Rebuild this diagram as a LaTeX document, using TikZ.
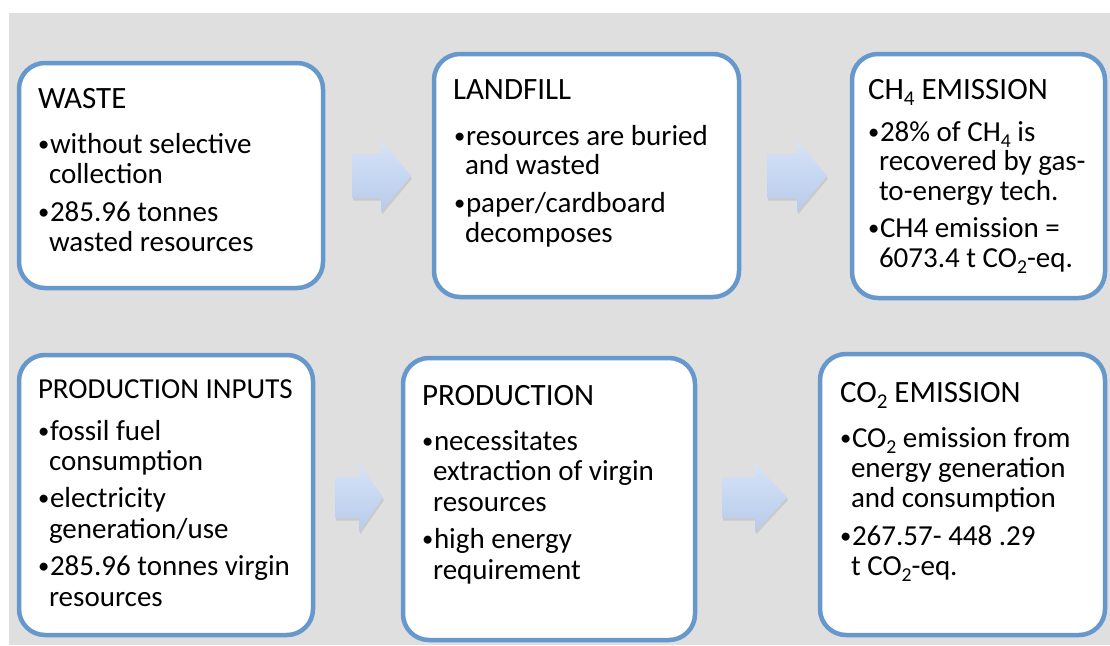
\documentclass[tikz,border=0pt]{standalone}
\usepackage{fontspec}
\usepackage{graphicx}
\setmainfont{Carlito}
\usetikzlibrary{shadows}

\definecolor{panelGray}{RGB}{223,223,223}
\definecolor{cardLine}{RGB}{102,152,203}
\definecolor{arrowTop}{RGB}{214,227,248}
\definecolor{arrowBot}{RGB}{183,203,234}

% chemical index set low and small, without adding line depth
\newcommand\lowidx[1]{\smash{\raisebox{-0.22em}{\scalebox{0.68}{#1}}}}
% list mark
\newcommand\listdot{\raisebox{0.05em}{\scalebox{0.78}{•}}}

\tikzset{
  card/.style={draw=cardLine, line width=4.5pt, fill=white, rounded corners=26pt, inner sep=0pt},
  txt/.style={anchor=base west, inner sep=0pt, outer sep=0pt, font=\fontsize{29}{30}\selectfont},
  head/.style={txt, font=\fontsize{31}{32}\selectfont},
  flowarrow/.style={top color=arrowTop, bottom color=arrowBot, draw=none,
    drop shadow={opacity=0.22, shadow xshift=1pt, shadow yshift=-2.5pt}},
}

\begin{document}
\begin{tikzpicture}[x=1pt, y=-1pt]
  % page and panel
  \fill[white] (0,0) rectangle (1110,645);
  \useasboundingbox (0,0) rectangle (1110,645);
  \fill[panelGray] (9,13) rectangle (1110,645);

  % cards
  \node[card, minimum width=304pt, minimum height=225pt] (waste)    at (171,175.5) {};
  \node[card, minimum width=305pt, minimum height=243pt] (landfill) at (586.5,175.5) {};
  \node[card, minimum width=253pt, minimum height=244pt] (methane)  at (978.5,176) {};
  \node[card, minimum width=294pt, minimum height=280pt] (inputs)   at (166,495) {};
  \node[card, minimum width=292pt, minimum height=282pt] (prod)     at (549,499) {};
  \node[card, minimum width=285pt, minimum height=281pt] (carbon)   at (962.5,494.5) {};

  % block arrows between the cards
  \path[flowarrow] (352,154) -- (381,154) -- (381,140) -- (411,176) -- (381,212) -- (381,198) -- (352,198) -- cycle;
  \path[flowarrow] (767,154) -- (797,154) -- (797,140) -- (827,176) -- (797,212) -- (797,198) -- (767,198) -- cycle;
  \path[flowarrow] (335,477) -- (359,477) -- (359,463) -- (383,497.5) -- (359,532) -- (359,518) -- (335,518) -- cycle;
  \path[flowarrow] (722,477) -- (755,477) -- (755,463) -- (787,497.5) -- (755,532) -- (755,518) -- (722,518) -- cycle;

  % WASTE
  \node[head] (wa0) at (38,108) {WASTE};
  \node[txt] (wa1b) at (38,153) {\listdot};
  \node[txt] (wa1) at (50,153) {without selective};
  \node[txt] (wa2) at (49,183) {collection};
  \node[txt] (wa3b) at (38,221) {\listdot};
  \node[txt] (wa3) at (50,221) {285.96 tonnes};
  \node[txt] (wa4) at (49,251) {wasted resources};

  % LANDFILL
  \node[head] (la0) at (453,99) {LANDFILL};
  \node[txt] (la1b) at (454,145) {\listdot};
  \node[txt] (la1) at (466,145) {resources are buried};
  \node[txt] (la2) at (465,174) {and wasted};
  \node[txt] (la3b) at (454,212) {\listdot};
  \node[txt] (la3) at (466,212) {paper/cardboard};
  \node[txt] (la4) at (465,242) {decomposes};

  % CH4 EMISSION
  \node[head] (me0) at (868,99) {CH\lowidx{4} EMISSION};
  \node[txt] (me1b) at (868,141) {\listdot};
  \node[txt] (me1) at (880,141) {28\% of CH\lowidx{4} is};
  \node[txt] (me2) at (879,170) {recovered by gas-};
  \node[txt] (me3) at (879,200) {to-energy tech.};
  \node[txt] (me4b) at (868,237) {\listdot};
  \node[txt] (me4) at (880,237) {CH4 emission =};
  \node[txt] (me5) at (879,267) {6073.4 t CO\lowidx{2}-eq.};

  % PRODUCTION INPUTS
  \node[txt] (in0) at (38,398) {PRODUCTION INPUTS};
  \node[txt] (in1b) at (38,440) {\listdot};
  \node[txt] (in1) at (50,440) {fossil fuel};
  \node[txt] (in2) at (49,470) {consumption};
  \node[txt] (in3b) at (38,507) {\listdot};
  \node[txt] (in3) at (50,507) {electricity};
  \node[txt] (in4) at (49,538) {generation/use};
  \node[txt] (in5b) at (38,575) {\listdot};
  \node[txt] (in5) at (50,575) {285.96 tonnes virgin};
  \node[txt] (in6) at (49,606) {resources};

  % PRODUCTION
  \node[head] (pr0) at (422,405) {PRODUCTION};
  \node[txt] (pr1b) at (422,450) {\listdot};
  \node[txt] (pr1) at (434,450) {necessitates};
  \node[txt] (pr2) at (433,480) {extraction of virgin};
  \node[txt] (pr3) at (433,511) {resources};
  \node[txt] (pr4b) at (422,548) {\listdot};
  \node[txt] (pr4) at (434,548) {high energy};
  \node[txt] (pr5) at (433,579) {requirement};

  % CO2 EMISSION
  \node[head] (co0) at (840,402) {CO\lowidx{2} EMISSION};
  \node[txt] (co1b) at (840,447) {\listdot};
  \node[txt] (co1) at (852,447) {CO\lowidx{2} emission from};
  \node[txt] (co2) at (851,477) {energy generation};
  \node[txt] (co3) at (851,507) {and consumption};
  \node[txt] (co4b) at (840,545) {\listdot};
  \node[txt] (co4) at (852,545) {267.57- 448 .29};
  \node[txt] (co5) at (851,575) {t CO\lowidx{2}-eq.};
\end{tikzpicture}
\end{document}
